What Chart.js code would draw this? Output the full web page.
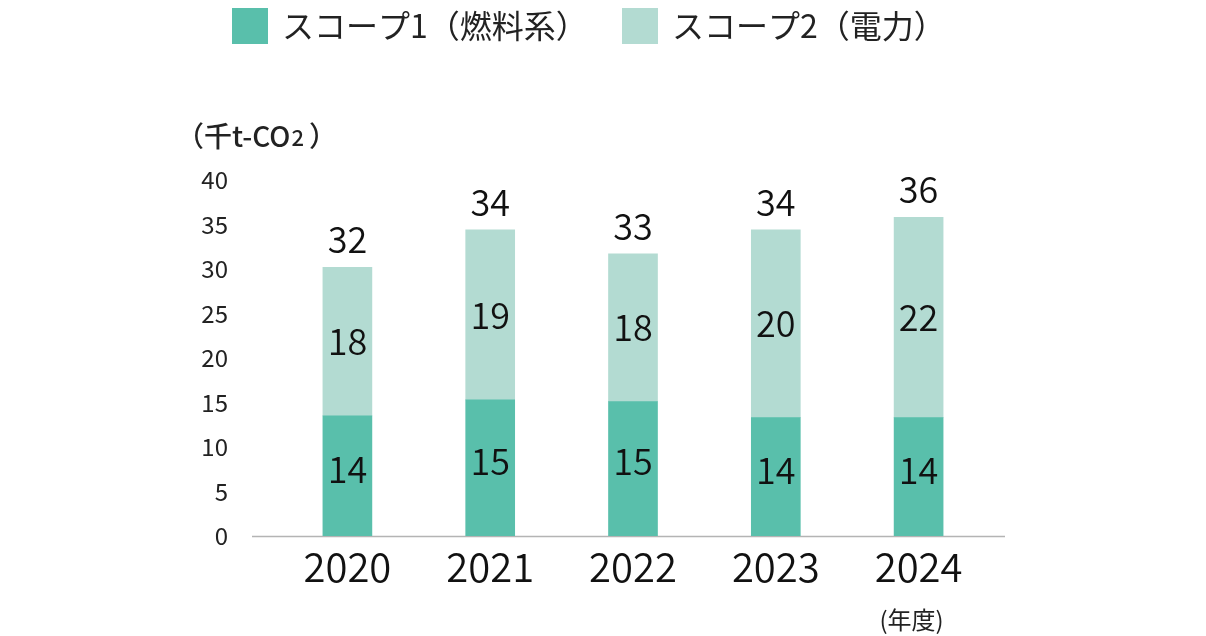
<!DOCTYPE html>
<html><head><meta charset="utf-8">
<script src="https://cdn.jsdelivr.net/npm/chart.js@4"></script>
<style>html,body{margin:0;padding:0;background:#fff}</style>
</head><body>
<canvas id="c" width="1206" height="636"></canvas>
<script>
const years = ['2020', '2021', '2022', '2023', '2024'];
const scope1Values = [13.5, 15.3, 15.1, 13.3, 13.3];
const scope2Values = [16.7, 19.1, 16.6, 21.1, 22.5];
const scope1Labels = ['14', '15', '15', '14', '14'];
const scope2Labels = ['18', '19', '18', '20', '22'];
const totalLabels = ['32', '34', '33', '34', '36'];
const seriesNames = ['スコープ1（燃料系）', 'スコープ2（電力）'];
const yTicks = [0, 5, 10, 15, 20, 25, 30, 35, 40];
const unitMain = '（千t-CO';
const unitSub = '2';
const unitEnd = '）';
const fiscalLabel = '(年度)';

const FONT = "'Noto Sans CJK JP', 'Noto Sans', sans-serif";
const C1 = '#59bfab';
const C2 = '#b3dbd2';

const overlay = {
  id: 'overlay',
  beforeDatasetsDraw(chart) {
    const ctx = chart.ctx, ca = chart.chartArea;
    ctx.save();
    ctx.strokeStyle = '#b4b4b4';
    ctx.lineWidth = 1.5;
    ctx.beginPath();
    ctx.moveTo(ca.left - 24, ca.bottom + 0.5);
    ctx.lineTo(ca.right + 15, ca.bottom + 0.5);
    ctx.stroke();
    ctx.restore();
  },
  afterDatasetsDraw(chart) {
    const ctx = chart.ctx;
    ctx.save();
    ctx.fillStyle = '#111';
    ctx.font = '350 36px ' + FONT;
    ctx.textAlign = 'center';
    ctx.textBaseline = 'middle';
    const m0 = chart.getDatasetMeta(0), m1 = chart.getDatasetMeta(1);
    m0.data.forEach((bar, i) => {
      const p = bar.getProps(['x', 'y', 'base'], true);
      ctx.fillText(scope1Labels[i], p.x, (p.y + p.base) / 2 - 7);
    });
    m1.data.forEach((bar, i) => {
      const p = bar.getProps(['x', 'y', 'base'], true);
      ctx.fillText(scope2Labels[i], p.x, (p.y + p.base) / 2);
      ctx.fillText(totalLabels[i], p.x, p.y - 28);
    });
    ctx.restore();
  },
  afterDraw(chart) {
    const ctx = chart.ctx;
    ctx.save();
    // legend
    const items = [[232, C1, seriesNames[0]], [622, C2, seriesNames[1]]];
    ctx.font = '32px ' + FONT;
    ctx.textBaseline = 'middle';
    ctx.textAlign = 'left';
    items.forEach(([x, col, txt]) => {
      ctx.fillStyle = col;
      ctx.fillRect(x, 8, 36, 36);
      ctx.fillStyle = '#222';
      ctx.fillText(txt, x + 50, 26);
    });
    // unit label
    ctx.fillStyle = '#222';
    ctx.textBaseline = 'alphabetic';
    ctx.font = '500 28px ' + FONT;
    let ux = 176, uy = 147;
    ctx.fillText(unitMain, ux, uy);
    ux += ctx.measureText(unitMain).width + 1;
    ctx.font = '500 22px ' + FONT;
    ctx.fillText(unitSub, ux, uy - 1);
    ux += ctx.measureText(unitSub).width + 5;
    ctx.font = '500 28px ' + FONT;
    ctx.fillText(unitEnd, ux, uy);
    // fiscal year label
    const xs = chart.scales.x;
    ctx.textBaseline = 'middle';
    ctx.font = '24px ' + FONT;
    ctx.textAlign = 'center';
    ctx.fillText(fiscalLabel, xs.getPixelForTick(years.length - 1) - 7, 620);
    ctx.restore();
  }
};

new Chart(document.getElementById('c'), {
  type: 'bar',
  data: {
    labels: years,
    datasets: [
      { label: seriesNames[0], data: scope1Values, backgroundColor: C1, borderWidth: 0, barThickness: 49 },
      { label: seriesNames[1], data: scope2Values, backgroundColor: C2, borderWidth: 0, barThickness: 49 }
    ]
  },
  options: {
    responsive: false,
    animation: false,
    layout: { padding: { top: 180, left: 0, right: 216, bottom: 40 } },
    plugins: { legend: { display: false }, tooltip: { enabled: false } },
    scales: {
      x: {
        stacked: true,
        grid: { display: false, drawTicks: false },
        border: { display: false },
        ticks: { color: '#111', font: { family: FONT, size: 40, weight: 350 }, padding: 7 },
        afterFit: s => { s.height = 60; }
      },
      y: {
        stacked: true,
        min: 0, max: 40,
        grid: { display: false, drawTicks: false },
        border: { display: false },
        afterBuildTicks: s => { s.ticks = yTicks.map(v => ({ value: v })); },
        ticks: { color: '#222', font: { family: FONT, size: 24 }, padding: 48 },
        afterFit: s => { s.width = 276; }
      }
    }
  },
  plugins: [overlay]
});
</script>
</body></html>
